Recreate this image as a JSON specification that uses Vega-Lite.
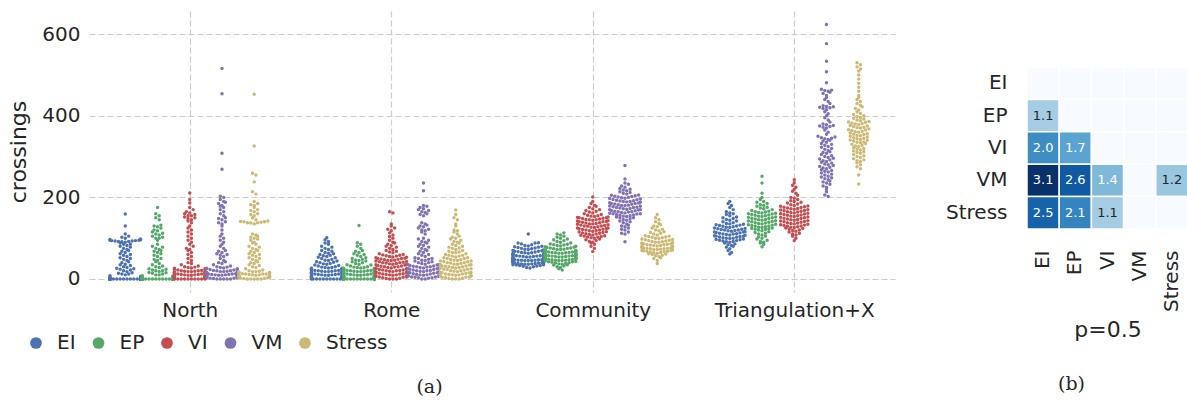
{
"$schema": "https://vega.github.io/schema/vega-lite/v6.json",
"padding": {"left": 7, "top": 11, "right": 0, "bottom": 0},
"spacing": 50,
"config": {
  "font": "DejaVu Sans",
  "view": {"stroke": null},
  "axis": {"labelColor": "#262626", "titleColor": "#262626", "labelFontSize": 20, "titleFontSize": 22, "titleFontWeight": "normal", "domain": false, "ticks": false, "gridColor": "#cccccc", "gridDash": [6, 3], "gridWidth": 1.2}
},
"hconcat": [
{
  "width": 806,
  "height": 281,
  "data": {"format": {"type": "csv", "parse": {"c": "number"}}, "values": "g,m,c\nN,EI,0\nN,EI,0\nN,EI,0\nN,EI,0\nN,EI,0\nN,EI,0\nN,EI,0\nN,EI,0\nN,EI,0\nN,EI,0\nN,EI,0\nN,EI,0\nN,EI,0\nN,EI,0\nN,EI,0\nN,EI,0\nN,EI,0\nN,EI,0\nN,EI,0\nN,EI,0\nN,EI,0\nN,EI,0\nN,EI,0\nN,EI,0\nN,EI,0\nN,EI,0\nN,EI,0\nN,EI,0\nN,EI,0\nN,EI,0\nN,EI,0\nN,EI,0\nN,EI,0\nN,EI,0\nN,EI,0\nN,EI,0\nN,EI,0\nN,EI,0\nN,EI,2\nN,EI,3\nN,EI,4\nN,EI,5\nN,EI,6\nN,EI,8\nN,EI,10\nN,EI,12\nN,EI,12\nN,EI,14\nN,EI,15\nN,EI,18\nN,EI,20\nN,EI,22\nN,EI,24\nN,EI,25\nN,EI,26\nN,EI,28\nN,EI,30\nN,EI,33\nN,EI,35\nN,EI,36\nN,EI,40\nN,EI,42\nN,EI,45\nN,EI,48\nN,EI,50\nN,EI,52\nN,EI,55\nN,EI,58\nN,EI,60\nN,EI,62\nN,EI,65\nN,EI,68\nN,EI,70\nN,EI,72\nN,EI,75\nN,EI,78\nN,EI,80\nN,EI,82\nN,EI,85\nN,EI,85\nN,EI,88\nN,EI,90\nN,EI,91\nN,EI,92\nN,EI,92\nN,EI,93\nN,EI,93\nN,EI,94\nN,EI,94\nN,EI,95\nN,EI,95\nN,EI,96\nN,EI,97\nN,EI,98\nN,EI,100\nN,EI,102\nN,EI,105\nN,EI,110\nN,EI,130\nN,EI,159\nN,EP,0\nN,EP,0\nN,EP,0\nN,EP,0\nN,EP,0\nN,EP,0\nN,EP,0\nN,EP,0\nN,EP,0\nN,EP,0\nN,EP,0\nN,EP,0\nN,EP,0\nN,EP,0\nN,EP,0\nN,EP,0\nN,EP,0\nN,EP,0\nN,EP,0\nN,EP,0\nN,EP,0\nN,EP,0\nN,EP,0\nN,EP,0\nN,EP,0\nN,EP,0\nN,EP,0\nN,EP,0\nN,EP,0\nN,EP,0\nN,EP,0\nN,EP,0\nN,EP,0\nN,EP,0\nN,EP,0\nN,EP,0\nN,EP,0\nN,EP,0\nN,EP,0\nN,EP,0\nN,EP,1\nN,EP,2\nN,EP,3\nN,EP,4\nN,EP,5\nN,EP,6\nN,EP,7\nN,EP,8\nN,EP,10\nN,EP,10\nN,EP,12\nN,EP,14\nN,EP,15\nN,EP,16\nN,EP,18\nN,EP,20\nN,EP,20\nN,EP,22\nN,EP,24\nN,EP,25\nN,EP,28\nN,EP,30\nN,EP,32\nN,EP,35\nN,EP,38\nN,EP,42\nN,EP,45\nN,EP,48\nN,EP,50\nN,EP,55\nN,EP,58\nN,EP,62\nN,EP,65\nN,EP,68\nN,EP,70\nN,EP,72\nN,EP,75\nN,EP,78\nN,EP,80\nN,EP,85\nN,EP,95\nN,EP,100\nN,EP,100\nN,EP,102\nN,EP,105\nN,EP,108\nN,EP,110\nN,EP,112\nN,EP,115\nN,EP,118\nN,EP,120\nN,EP,125\nN,EP,128\nN,EP,130\nN,EP,132\nN,EP,145\nN,EP,150\nN,EP,155\nN,EP,160\nN,EP,175\nN,VI,0\nN,VI,0\nN,VI,0\nN,VI,0\nN,VI,0\nN,VI,0\nN,VI,0\nN,VI,0\nN,VI,0\nN,VI,0\nN,VI,1\nN,VI,1\nN,VI,2\nN,VI,2\nN,VI,3\nN,VI,3\nN,VI,4\nN,VI,4\nN,VI,5\nN,VI,5\nN,VI,6\nN,VI,6\nN,VI,7\nN,VI,7\nN,VI,8\nN,VI,8\nN,VI,9\nN,VI,9\nN,VI,10\nN,VI,10\nN,VI,11\nN,VI,11\nN,VI,12\nN,VI,12\nN,VI,13\nN,VI,13\nN,VI,14\nN,VI,14\nN,VI,15\nN,VI,15\nN,VI,16\nN,VI,16\nN,VI,17\nN,VI,17\nN,VI,18\nN,VI,18\nN,VI,19\nN,VI,19\nN,VI,20\nN,VI,20\nN,VI,21\nN,VI,22\nN,VI,23\nN,VI,24\nN,VI,25\nN,VI,27\nN,VI,29\nN,VI,26\nN,VI,28\nN,VI,30\nN,VI,32\nN,VI,35\nN,VI,38\nN,VI,40\nN,VI,45\nN,VI,50\nN,VI,55\nN,VI,60\nN,VI,65\nN,VI,70\nN,VI,72\nN,VI,75\nN,VI,80\nN,VI,85\nN,VI,90\nN,VI,95\nN,VI,100\nN,VI,105\nN,VI,110\nN,VI,115\nN,VI,120\nN,VI,125\nN,VI,130\nN,VI,138\nN,VI,142\nN,VI,145\nN,VI,148\nN,VI,150\nN,VI,152\nN,VI,155\nN,VI,155\nN,VI,158\nN,VI,160\nN,VI,162\nN,VI,165\nN,VI,170\nN,VI,175\nN,VI,186\nN,VI,195\nN,VI,211\nN,VM,0\nN,VM,0\nN,VM,0\nN,VM,0\nN,VM,0\nN,VM,1\nN,VM,2\nN,VM,3\nN,VM,4\nN,VM,5\nN,VM,6\nN,VM,7\nN,VM,8\nN,VM,9\nN,VM,10\nN,VM,11\nN,VM,12\nN,VM,13\nN,VM,14\nN,VM,15\nN,VM,16\nN,VM,17\nN,VM,18\nN,VM,19\nN,VM,20\nN,VM,21\nN,VM,22\nN,VM,23\nN,VM,24\nN,VM,25\nN,VM,26\nN,VM,27\nN,VM,28\nN,VM,29\nN,VM,30\nN,VM,2\nN,VM,4\nN,VM,6\nN,VM,8\nN,VM,10\nN,VM,12\nN,VM,14\nN,VM,16\nN,VM,18\nN,VM,20\nN,VM,3\nN,VM,5\nN,VM,7\nN,VM,9\nN,VM,11\nN,VM,13\nN,VM,15\nN,VM,25\nN,VM,32\nN,VM,38\nN,VM,42\nN,VM,35\nN,VM,40\nN,VM,45\nN,VM,50\nN,VM,55\nN,VM,58\nN,VM,60\nN,VM,62\nN,VM,65\nN,VM,68\nN,VM,70\nN,VM,75\nN,VM,80\nN,VM,85\nN,VM,90\nN,VM,95\nN,VM,100\nN,VM,105\nN,VM,110\nN,VM,120\nN,VM,130\nN,VM,135\nN,VM,138\nN,VM,140\nN,VM,145\nN,VM,148\nN,VM,150\nN,VM,155\nN,VM,160\nN,VM,165\nN,VM,170\nN,VM,175\nN,VM,178\nN,VM,180\nN,VM,185\nN,VM,188\nN,VM,190\nN,VM,195\nN,VM,200\nN,VM,203\nN,VM,269\nN,VM,308\nN,VM,454\nN,VM,516\nN,Stress,0\nN,Stress,0\nN,Stress,0\nN,Stress,0\nN,Stress,0\nN,Stress,1\nN,Stress,2\nN,Stress,3\nN,Stress,4\nN,Stress,5\nN,Stress,6\nN,Stress,7\nN,Stress,8\nN,Stress,9\nN,Stress,10\nN,Stress,11\nN,Stress,12\nN,Stress,13\nN,Stress,14\nN,Stress,15\nN,Stress,16\nN,Stress,17\nN,Stress,18\nN,Stress,19\nN,Stress,20\nN,Stress,2\nN,Stress,4\nN,Stress,5\nN,Stress,6\nN,Stress,8\nN,Stress,8\nN,Stress,10\nN,Stress,12\nN,Stress,12\nN,Stress,14\nN,Stress,16\nN,Stress,18\nN,Stress,22\nN,Stress,25\nN,Stress,28\nN,Stress,30\nN,Stress,33\nN,Stress,35\nN,Stress,38\nN,Stress,40\nN,Stress,42\nN,Stress,45\nN,Stress,48\nN,Stress,50\nN,Stress,52\nN,Stress,55\nN,Stress,58\nN,Stress,60\nN,Stress,62\nN,Stress,65\nN,Stress,68\nN,Stress,70\nN,Stress,72\nN,Stress,75\nN,Stress,78\nN,Stress,80\nN,Stress,85\nN,Stress,88\nN,Stress,90\nN,Stress,95\nN,Stress,98\nN,Stress,100\nN,Stress,102\nN,Stress,105\nN,Stress,108\nN,Stress,110\nN,Stress,135\nN,Stress,137\nN,Stress,138\nN,Stress,138\nN,Stress,139\nN,Stress,140\nN,Stress,140\nN,Stress,141\nN,Stress,142\nN,Stress,145\nN,Stress,150\nN,Stress,155\nN,Stress,158\nN,Stress,160\nN,Stress,165\nN,Stress,168\nN,Stress,170\nN,Stress,175\nN,Stress,180\nN,Stress,182\nN,Stress,185\nN,Stress,190\nN,Stress,208\nN,Stress,214\nN,Stress,238\nN,Stress,255\nN,Stress,259\nN,Stress,326\nN,Stress,453\nR,EI,0\nR,EI,0\nR,EI,0\nR,EI,0\nR,EI,0\nR,EI,0\nR,EI,0\nR,EI,0\nR,EI,0\nR,EI,0\nR,EI,1\nR,EI,2\nR,EI,3\nR,EI,4\nR,EI,5\nR,EI,6\nR,EI,7\nR,EI,8\nR,EI,9\nR,EI,10\nR,EI,11\nR,EI,12\nR,EI,13\nR,EI,14\nR,EI,15\nR,EI,16\nR,EI,17\nR,EI,18\nR,EI,19\nR,EI,20\nR,EI,21\nR,EI,22\nR,EI,23\nR,EI,24\nR,EI,25\nR,EI,26\nR,EI,27\nR,EI,28\nR,EI,29\nR,EI,30\nR,EI,3\nR,EI,5\nR,EI,7\nR,EI,9\nR,EI,11\nR,EI,13\nR,EI,15\nR,EI,17\nR,EI,19\nR,EI,21\nR,EI,23\nR,EI,25\nR,EI,2\nR,EI,4\nR,EI,6\nR,EI,8\nR,EI,10\nR,EI,12\nR,EI,14\nR,EI,16\nR,EI,18\nR,EI,20\nR,EI,22\nR,EI,24\nR,EI,26\nR,EI,28\nR,EI,32\nR,EI,33\nR,EI,34\nR,EI,36\nR,EI,37\nR,EI,38\nR,EI,40\nR,EI,41\nR,EI,42\nR,EI,44\nR,EI,45\nR,EI,46\nR,EI,48\nR,EI,50\nR,EI,52\nR,EI,53\nR,EI,55\nR,EI,57\nR,EI,58\nR,EI,60\nR,EI,62\nR,EI,63\nR,EI,65\nR,EI,68\nR,EI,70\nR,EI,72\nR,EI,75\nR,EI,78\nR,EI,80\nR,EI,85\nR,EI,88\nR,EI,92\nR,EI,96\nR,EI,101\nR,EP,0\nR,EP,0\nR,EP,0\nR,EP,0\nR,EP,0\nR,EP,0\nR,EP,0\nR,EP,0\nR,EP,0\nR,EP,0\nR,EP,0\nR,EP,0\nR,EP,0\nR,EP,0\nR,EP,0\nR,EP,0\nR,EP,0\nR,EP,0\nR,EP,0\nR,EP,0\nR,EP,1\nR,EP,2\nR,EP,3\nR,EP,4\nR,EP,5\nR,EP,6\nR,EP,7\nR,EP,8\nR,EP,9\nR,EP,10\nR,EP,11\nR,EP,12\nR,EP,13\nR,EP,14\nR,EP,15\nR,EP,16\nR,EP,17\nR,EP,18\nR,EP,19\nR,EP,20\nR,EP,21\nR,EP,22\nR,EP,23\nR,EP,24\nR,EP,25\nR,EP,26\nR,EP,27\nR,EP,28\nR,EP,29\nR,EP,30\nR,EP,5\nR,EP,8\nR,EP,10\nR,EP,12\nR,EP,15\nR,EP,18\nR,EP,20\nR,EP,22\nR,EP,25\nR,EP,28\nR,EP,3\nR,EP,4\nR,EP,6\nR,EP,7\nR,EP,9\nR,EP,11\nR,EP,13\nR,EP,14\nR,EP,16\nR,EP,17\nR,EP,19\nR,EP,21\nR,EP,23\nR,EP,24\nR,EP,26\nR,EP,32\nR,EP,34\nR,EP,35\nR,EP,36\nR,EP,38\nR,EP,40\nR,EP,42\nR,EP,44\nR,EP,45\nR,EP,46\nR,EP,48\nR,EP,50\nR,EP,52\nR,EP,55\nR,EP,58\nR,EP,60\nR,EP,62\nR,EP,65\nR,EP,68\nR,EP,70\nR,EP,75\nR,EP,80\nR,EP,85\nR,EP,89\nR,EP,131\nR,VI,0\nR,VI,0\nR,VI,0\nR,VI,1\nR,VI,2\nR,VI,3\nR,VI,4\nR,VI,5\nR,VI,6\nR,VI,7\nR,VI,8\nR,VI,9\nR,VI,10\nR,VI,11\nR,VI,12\nR,VI,13\nR,VI,14\nR,VI,15\nR,VI,16\nR,VI,17\nR,VI,18\nR,VI,19\nR,VI,20\nR,VI,21\nR,VI,22\nR,VI,23\nR,VI,24\nR,VI,25\nR,VI,26\nR,VI,27\nR,VI,28\nR,VI,29\nR,VI,30\nR,VI,31\nR,VI,32\nR,VI,33\nR,VI,34\nR,VI,35\nR,VI,36\nR,VI,37\nR,VI,38\nR,VI,39\nR,VI,40\nR,VI,41\nR,VI,42\nR,VI,43\nR,VI,44\nR,VI,45\nR,VI,46\nR,VI,47\nR,VI,48\nR,VI,49\nR,VI,50\nR,VI,51\nR,VI,52\nR,VI,53\nR,VI,54\nR,VI,55\nR,VI,56\nR,VI,57\nR,VI,58\nR,VI,59\nR,VI,60\nR,VI,5\nR,VI,10\nR,VI,15\nR,VI,20\nR,VI,25\nR,VI,30\nR,VI,35\nR,VI,40\nR,VI,45\nR,VI,50\nR,VI,12\nR,VI,22\nR,VI,62\nR,VI,64\nR,VI,66\nR,VI,68\nR,VI,70\nR,VI,72\nR,VI,75\nR,VI,78\nR,VI,80\nR,VI,82\nR,VI,85\nR,VI,88\nR,VI,90\nR,VI,95\nR,VI,100\nR,VI,104\nR,VI,108\nR,VI,113\nR,VI,118\nR,VI,122\nR,VI,125\nR,VI,130\nR,VI,135\nR,VI,162\nR,VI,165\nR,VM,0\nR,VM,0\nR,VM,2\nR,VM,3\nR,VM,4\nR,VM,5\nR,VM,6\nR,VM,7\nR,VM,8\nR,VM,9\nR,VM,10\nR,VM,11\nR,VM,12\nR,VM,13\nR,VM,14\nR,VM,15\nR,VM,16\nR,VM,17\nR,VM,18\nR,VM,19\nR,VM,20\nR,VM,21\nR,VM,22\nR,VM,23\nR,VM,24\nR,VM,25\nR,VM,26\nR,VM,27\nR,VM,28\nR,VM,29\nR,VM,30\nR,VM,31\nR,VM,32\nR,VM,33\nR,VM,34\nR,VM,35\nR,VM,36\nR,VM,38\nR,VM,40\nR,VM,42\nR,VM,44\nR,VM,46\nR,VM,48\nR,VM,50\nR,VM,52\nR,VM,55\nR,VM,5\nR,VM,10\nR,VM,15\nR,VM,20\nR,VM,25\nR,VM,30\nR,VM,35\nR,VM,40\nR,VM,45\nR,VM,50\nR,VM,3\nR,VM,7\nR,VM,58\nR,VM,60\nR,VM,62\nR,VM,65\nR,VM,68\nR,VM,70\nR,VM,72\nR,VM,75\nR,VM,78\nR,VM,80\nR,VM,82\nR,VM,85\nR,VM,88\nR,VM,90\nR,VM,92\nR,VM,95\nR,VM,98\nR,VM,100\nR,VM,110\nR,VM,115\nR,VM,118\nR,VM,120\nR,VM,122\nR,VM,125\nR,VM,128\nR,VM,130\nR,VM,132\nR,VM,135\nR,VM,138\nR,VM,155\nR,VM,158\nR,VM,160\nR,VM,163\nR,VM,165\nR,VM,168\nR,VM,170\nR,VM,172\nR,VM,175\nR,VM,178\nR,VM,180\nR,VM,216\nR,VM,235\nR,Stress,0\nR,Stress,0\nR,Stress,0\nR,Stress,1\nR,Stress,2\nR,Stress,4\nR,Stress,6\nR,Stress,8\nR,Stress,9\nR,Stress,10\nR,Stress,12\nR,Stress,14\nR,Stress,16\nR,Stress,18\nR,Stress,20\nR,Stress,22\nR,Stress,24\nR,Stress,26\nR,Stress,28\nR,Stress,30\nR,Stress,32\nR,Stress,34\nR,Stress,36\nR,Stress,38\nR,Stress,40\nR,Stress,42\nR,Stress,44\nR,Stress,46\nR,Stress,48\nR,Stress,50\nR,Stress,52\nR,Stress,54\nR,Stress,56\nR,Stress,58\nR,Stress,60\nR,Stress,5\nR,Stress,10\nR,Stress,15\nR,Stress,20\nR,Stress,25\nR,Stress,30\nR,Stress,35\nR,Stress,40\nR,Stress,45\nR,Stress,50\nR,Stress,3\nR,Stress,7\nR,Stress,11\nR,Stress,15\nR,Stress,19\nR,Stress,23\nR,Stress,27\nR,Stress,31\nR,Stress,35\nR,Stress,39\nR,Stress,43\nR,Stress,47\nR,Stress,4\nR,Stress,8\nR,Stress,12\nR,Stress,16\nR,Stress,24\nR,Stress,28\nR,Stress,32\nR,Stress,36\nR,Stress,44\nR,Stress,52\nR,Stress,56\nR,Stress,58\nR,Stress,64\nR,Stress,66\nR,Stress,62\nR,Stress,65\nR,Stress,68\nR,Stress,70\nR,Stress,72\nR,Stress,75\nR,Stress,76\nR,Stress,78\nR,Stress,80\nR,Stress,82\nR,Stress,85\nR,Stress,88\nR,Stress,90\nR,Stress,92\nR,Stress,95\nR,Stress,98\nR,Stress,100\nR,Stress,102\nR,Stress,105\nR,Stress,110\nR,Stress,115\nR,Stress,118\nR,Stress,120\nR,Stress,130\nR,Stress,135\nR,Stress,145\nR,Stress,150\nR,Stress,158\nR,Stress,169\nC,EI,27\nC,EI,28\nC,EI,30\nC,EI,31\nC,EI,32\nC,EI,33\nC,EI,33\nC,EI,34\nC,EI,35\nC,EI,35\nC,EI,36\nC,EI,36\nC,EI,37\nC,EI,37\nC,EI,38\nC,EI,38\nC,EI,39\nC,EI,39\nC,EI,40\nC,EI,40\nC,EI,40\nC,EI,41\nC,EI,41\nC,EI,42\nC,EI,42\nC,EI,42\nC,EI,43\nC,EI,43\nC,EI,44\nC,EI,44\nC,EI,44\nC,EI,45\nC,EI,45\nC,EI,45\nC,EI,46\nC,EI,46\nC,EI,46\nC,EI,47\nC,EI,47\nC,EI,47\nC,EI,48\nC,EI,48\nC,EI,48\nC,EI,49\nC,EI,49\nC,EI,50\nC,EI,50\nC,EI,50\nC,EI,51\nC,EI,51\nC,EI,52\nC,EI,52\nC,EI,53\nC,EI,53\nC,EI,54\nC,EI,54\nC,EI,55\nC,EI,55\nC,EI,56\nC,EI,56\nC,EI,57\nC,EI,57\nC,EI,58\nC,EI,58\nC,EI,59\nC,EI,60\nC,EI,60\nC,EI,61\nC,EI,62\nC,EI,62\nC,EI,63\nC,EI,64\nC,EI,64\nC,EI,65\nC,EI,66\nC,EI,67\nC,EI,68\nC,EI,68\nC,EI,69\nC,EI,70\nC,EI,71\nC,EI,72\nC,EI,73\nC,EI,74\nC,EI,75\nC,EI,76\nC,EI,77\nC,EI,78\nC,EI,79\nC,EI,80\nC,EI,81\nC,EI,82\nC,EI,84\nC,EI,86\nC,EI,88\nC,EI,88\nC,EI,89\nC,EI,110\nC,EP,22\nC,EP,25\nC,EP,28\nC,EP,30\nC,EP,32\nC,EP,34\nC,EP,35\nC,EP,36\nC,EP,37\nC,EP,38\nC,EP,39\nC,EP,40\nC,EP,41\nC,EP,42\nC,EP,42\nC,EP,43\nC,EP,44\nC,EP,45\nC,EP,45\nC,EP,46\nC,EP,46\nC,EP,47\nC,EP,47\nC,EP,48\nC,EP,48\nC,EP,49\nC,EP,49\nC,EP,50\nC,EP,50\nC,EP,51\nC,EP,51\nC,EP,52\nC,EP,52\nC,EP,53\nC,EP,53\nC,EP,54\nC,EP,54\nC,EP,55\nC,EP,55\nC,EP,56\nC,EP,56\nC,EP,57\nC,EP,57\nC,EP,58\nC,EP,58\nC,EP,59\nC,EP,59\nC,EP,60\nC,EP,60\nC,EP,61\nC,EP,61\nC,EP,62\nC,EP,62\nC,EP,63\nC,EP,63\nC,EP,64\nC,EP,64\nC,EP,65\nC,EP,65\nC,EP,66\nC,EP,66\nC,EP,67\nC,EP,67\nC,EP,68\nC,EP,68\nC,EP,69\nC,EP,70\nC,EP,70\nC,EP,71\nC,EP,72\nC,EP,72\nC,EP,73\nC,EP,74\nC,EP,75\nC,EP,76\nC,EP,76\nC,EP,77\nC,EP,78\nC,EP,79\nC,EP,80\nC,EP,81\nC,EP,82\nC,EP,83\nC,EP,84\nC,EP,85\nC,EP,86\nC,EP,88\nC,EP,90\nC,EP,92\nC,EP,94\nC,EP,96\nC,EP,98\nC,EP,100\nC,EP,102\nC,EP,105\nC,EP,108\nC,EP,110\nC,EP,113\nC,VI,67\nC,VI,75\nC,VI,80\nC,VI,85\nC,VI,88\nC,VI,90\nC,VI,92\nC,VI,94\nC,VI,96\nC,VI,98\nC,VI,100\nC,VI,101\nC,VI,102\nC,VI,103\nC,VI,104\nC,VI,105\nC,VI,106\nC,VI,107\nC,VI,108\nC,VI,109\nC,VI,110\nC,VI,111\nC,VI,112\nC,VI,113\nC,VI,114\nC,VI,115\nC,VI,116\nC,VI,117\nC,VI,118\nC,VI,119\nC,VI,120\nC,VI,120\nC,VI,121\nC,VI,122\nC,VI,123\nC,VI,124\nC,VI,125\nC,VI,125\nC,VI,126\nC,VI,127\nC,VI,128\nC,VI,129\nC,VI,130\nC,VI,130\nC,VI,131\nC,VI,132\nC,VI,133\nC,VI,134\nC,VI,135\nC,VI,135\nC,VI,136\nC,VI,137\nC,VI,138\nC,VI,139\nC,VI,140\nC,VI,140\nC,VI,141\nC,VI,142\nC,VI,143\nC,VI,144\nC,VI,145\nC,VI,145\nC,VI,146\nC,VI,147\nC,VI,148\nC,VI,149\nC,VI,150\nC,VI,150\nC,VI,151\nC,VI,152\nC,VI,153\nC,VI,154\nC,VI,155\nC,VI,156\nC,VI,158\nC,VI,160\nC,VI,162\nC,VI,164\nC,VI,166\nC,VI,168\nC,VI,170\nC,VI,172\nC,VI,175\nC,VI,178\nC,VI,180\nC,VI,185\nC,VI,190\nC,VI,201\nC,VM,91\nC,VM,110\nC,VM,112\nC,VM,115\nC,VM,120\nC,VM,122\nC,VM,125\nC,VM,128\nC,VM,130\nC,VM,132\nC,VM,135\nC,VM,138\nC,VM,140\nC,VM,142\nC,VM,144\nC,VM,146\nC,VM,148\nC,VM,150\nC,VM,150\nC,VM,152\nC,VM,153\nC,VM,154\nC,VM,155\nC,VM,156\nC,VM,157\nC,VM,158\nC,VM,159\nC,VM,160\nC,VM,160\nC,VM,161\nC,VM,162\nC,VM,163\nC,VM,164\nC,VM,165\nC,VM,165\nC,VM,166\nC,VM,167\nC,VM,168\nC,VM,169\nC,VM,170\nC,VM,170\nC,VM,171\nC,VM,172\nC,VM,173\nC,VM,174\nC,VM,175\nC,VM,175\nC,VM,176\nC,VM,177\nC,VM,178\nC,VM,179\nC,VM,180\nC,VM,180\nC,VM,181\nC,VM,182\nC,VM,183\nC,VM,184\nC,VM,185\nC,VM,185\nC,VM,186\nC,VM,187\nC,VM,188\nC,VM,189\nC,VM,190\nC,VM,190\nC,VM,191\nC,VM,192\nC,VM,193\nC,VM,194\nC,VM,195\nC,VM,196\nC,VM,197\nC,VM,198\nC,VM,199\nC,VM,200\nC,VM,201\nC,VM,202\nC,VM,203\nC,VM,204\nC,VM,205\nC,VM,206\nC,VM,208\nC,VM,210\nC,VM,212\nC,VM,214\nC,VM,216\nC,VM,218\nC,VM,220\nC,VM,222\nC,VM,225\nC,VM,228\nC,VM,232\nC,VM,235\nC,VM,245\nC,VM,278\nC,Stress,38\nC,Stress,45\nC,Stress,50\nC,Stress,52\nC,Stress,55\nC,Stress,57\nC,Stress,58\nC,Stress,60\nC,Stress,61\nC,Stress,62\nC,Stress,63\nC,Stress,64\nC,Stress,65\nC,Stress,66\nC,Stress,67\nC,Stress,68\nC,Stress,68\nC,Stress,69\nC,Stress,70\nC,Stress,70\nC,Stress,71\nC,Stress,72\nC,Stress,72\nC,Stress,73\nC,Stress,74\nC,Stress,74\nC,Stress,75\nC,Stress,75\nC,Stress,76\nC,Stress,76\nC,Stress,77\nC,Stress,78\nC,Stress,78\nC,Stress,79\nC,Stress,80\nC,Stress,80\nC,Stress,81\nC,Stress,82\nC,Stress,82\nC,Stress,83\nC,Stress,84\nC,Stress,84\nC,Stress,85\nC,Stress,86\nC,Stress,86\nC,Stress,87\nC,Stress,88\nC,Stress,88\nC,Stress,89\nC,Stress,90\nC,Stress,90\nC,Stress,91\nC,Stress,92\nC,Stress,93\nC,Stress,94\nC,Stress,95\nC,Stress,96\nC,Stress,97\nC,Stress,98\nC,Stress,99\nC,Stress,100\nC,Stress,101\nC,Stress,102\nC,Stress,103\nC,Stress,104\nC,Stress,105\nC,Stress,106\nC,Stress,108\nC,Stress,110\nC,Stress,112\nC,Stress,114\nC,Stress,116\nC,Stress,118\nC,Stress,120\nC,Stress,122\nC,Stress,125\nC,Stress,128\nC,Stress,130\nC,Stress,133\nC,Stress,136\nC,Stress,140\nC,Stress,145\nC,Stress,150\nC,Stress,158\nT,EI,61\nT,EI,65\nT,EI,70\nT,EI,74\nT,EI,78\nT,EI,80\nT,EI,82\nT,EI,84\nT,EI,86\nT,EI,88\nT,EI,90\nT,EI,91\nT,EI,92\nT,EI,93\nT,EI,94\nT,EI,95\nT,EI,96\nT,EI,97\nT,EI,98\nT,EI,99\nT,EI,100\nT,EI,100\nT,EI,101\nT,EI,102\nT,EI,103\nT,EI,104\nT,EI,105\nT,EI,105\nT,EI,106\nT,EI,107\nT,EI,108\nT,EI,109\nT,EI,110\nT,EI,110\nT,EI,111\nT,EI,112\nT,EI,113\nT,EI,114\nT,EI,115\nT,EI,115\nT,EI,116\nT,EI,117\nT,EI,118\nT,EI,119\nT,EI,120\nT,EI,120\nT,EI,121\nT,EI,122\nT,EI,123\nT,EI,124\nT,EI,125\nT,EI,126\nT,EI,127\nT,EI,128\nT,EI,129\nT,EI,130\nT,EI,131\nT,EI,132\nT,EI,133\nT,EI,134\nT,EI,135\nT,EI,136\nT,EI,138\nT,EI,140\nT,EI,142\nT,EI,144\nT,EI,146\nT,EI,148\nT,EI,150\nT,EI,152\nT,EI,155\nT,EI,158\nT,EI,160\nT,EI,162\nT,EI,165\nT,EI,170\nT,EI,175\nT,EI,180\nT,EI,185\nT,EI,190\nT,EP,79\nT,EP,85\nT,EP,88\nT,EP,90\nT,EP,92\nT,EP,95\nT,EP,98\nT,EP,100\nT,EP,103\nT,EP,105\nT,EP,108\nT,EP,110\nT,EP,112\nT,EP,114\nT,EP,116\nT,EP,118\nT,EP,120\nT,EP,121\nT,EP,122\nT,EP,123\nT,EP,124\nT,EP,125\nT,EP,126\nT,EP,127\nT,EP,128\nT,EP,129\nT,EP,130\nT,EP,131\nT,EP,132\nT,EP,133\nT,EP,134\nT,EP,135\nT,EP,136\nT,EP,137\nT,EP,138\nT,EP,139\nT,EP,140\nT,EP,141\nT,EP,142\nT,EP,143\nT,EP,144\nT,EP,145\nT,EP,146\nT,EP,147\nT,EP,148\nT,EP,149\nT,EP,150\nT,EP,151\nT,EP,152\nT,EP,153\nT,EP,154\nT,EP,155\nT,EP,156\nT,EP,157\nT,EP,158\nT,EP,159\nT,EP,160\nT,EP,161\nT,EP,162\nT,EP,163\nT,EP,164\nT,EP,165\nT,EP,166\nT,EP,168\nT,EP,170\nT,EP,172\nT,EP,174\nT,EP,176\nT,EP,178\nT,EP,180\nT,EP,182\nT,EP,185\nT,EP,188\nT,EP,190\nT,EP,195\nT,EP,200\nT,EP,210\nT,EP,235\nT,EP,252\nT,VI,94\nT,VI,100\nT,VI,105\nT,VI,108\nT,VI,110\nT,VI,112\nT,VI,115\nT,VI,117\nT,VI,119\nT,VI,120\nT,VI,122\nT,VI,124\nT,VI,125\nT,VI,126\nT,VI,127\nT,VI,128\nT,VI,129\nT,VI,130\nT,VI,131\nT,VI,132\nT,VI,133\nT,VI,134\nT,VI,135\nT,VI,136\nT,VI,137\nT,VI,138\nT,VI,139\nT,VI,140\nT,VI,141\nT,VI,142\nT,VI,143\nT,VI,144\nT,VI,145\nT,VI,146\nT,VI,147\nT,VI,148\nT,VI,149\nT,VI,150\nT,VI,151\nT,VI,152\nT,VI,153\nT,VI,154\nT,VI,155\nT,VI,156\nT,VI,157\nT,VI,158\nT,VI,159\nT,VI,160\nT,VI,161\nT,VI,162\nT,VI,163\nT,VI,164\nT,VI,165\nT,VI,166\nT,VI,167\nT,VI,168\nT,VI,169\nT,VI,170\nT,VI,171\nT,VI,172\nT,VI,173\nT,VI,174\nT,VI,175\nT,VI,176\nT,VI,177\nT,VI,178\nT,VI,179\nT,VI,180\nT,VI,182\nT,VI,184\nT,VI,186\nT,VI,188\nT,VI,190\nT,VI,192\nT,VI,195\nT,VI,198\nT,VI,200\nT,VI,205\nT,VI,210\nT,VI,215\nT,VI,220\nT,VI,225\nT,VI,230\nT,VI,236\nT,VI,243\nT,VM,202\nT,VM,206\nT,VM,214\nT,VM,220\nT,VM,225\nT,VM,228\nT,VM,232\nT,VM,235\nT,VM,238\nT,VM,240\nT,VM,243\nT,VM,246\nT,VM,248\nT,VM,250\nT,VM,252\nT,VM,255\nT,VM,257\nT,VM,260\nT,VM,262\nT,VM,264\nT,VM,266\nT,VM,268\nT,VM,270\nT,VM,272\nT,VM,274\nT,VM,276\nT,VM,278\nT,VM,280\nT,VM,282\nT,VM,284\nT,VM,286\nT,VM,288\nT,VM,290\nT,VM,292\nT,VM,294\nT,VM,296\nT,VM,298\nT,VM,300\nT,VM,302\nT,VM,305\nT,VM,308\nT,VM,310\nT,VM,312\nT,VM,315\nT,VM,318\nT,VM,320\nT,VM,323\nT,VM,325\nT,VM,328\nT,VM,330\nT,VM,332\nT,VM,335\nT,VM,338\nT,VM,340\nT,VM,342\nT,VM,344\nT,VM,345\nT,VM,346\nT,VM,348\nT,VM,350\nT,VM,355\nT,VM,360\nT,VM,365\nT,VM,370\nT,VM,372\nT,VM,374\nT,VM,375\nT,VM,376\nT,VM,378\nT,VM,380\nT,VM,385\nT,VM,390\nT,VM,395\nT,VM,400\nT,VM,405\nT,VM,410\nT,VM,415\nT,VM,418\nT,VM,420\nT,VM,421\nT,VM,422\nT,VM,423\nT,VM,425\nT,VM,430\nT,VM,435\nT,VM,440\nT,VM,445\nT,VM,450\nT,VM,455\nT,VM,458\nT,VM,460\nT,VM,462\nT,VM,463\nT,VM,465\nT,VM,481\nT,VM,508\nT,VM,534\nT,VM,577\nT,VM,624\nT,Stress,233\nT,Stress,255\nT,Stress,270\nT,Stress,275\nT,Stress,280\nT,Stress,285\nT,Stress,288\nT,Stress,290\nT,Stress,292\nT,Stress,295\nT,Stress,298\nT,Stress,300\nT,Stress,302\nT,Stress,305\nT,Stress,308\nT,Stress,310\nT,Stress,312\nT,Stress,314\nT,Stress,316\nT,Stress,318\nT,Stress,320\nT,Stress,322\nT,Stress,324\nT,Stress,326\nT,Stress,328\nT,Stress,330\nT,Stress,332\nT,Stress,334\nT,Stress,335\nT,Stress,336\nT,Stress,338\nT,Stress,340\nT,Stress,341\nT,Stress,342\nT,Stress,344\nT,Stress,345\nT,Stress,346\nT,Stress,348\nT,Stress,350\nT,Stress,351\nT,Stress,352\nT,Stress,354\nT,Stress,355\nT,Stress,356\nT,Stress,358\nT,Stress,360\nT,Stress,361\nT,Stress,362\nT,Stress,364\nT,Stress,365\nT,Stress,366\nT,Stress,368\nT,Stress,370\nT,Stress,371\nT,Stress,372\nT,Stress,374\nT,Stress,375\nT,Stress,376\nT,Stress,378\nT,Stress,380\nT,Stress,381\nT,Stress,382\nT,Stress,384\nT,Stress,385\nT,Stress,386\nT,Stress,388\nT,Stress,390\nT,Stress,392\nT,Stress,394\nT,Stress,396\nT,Stress,398\nT,Stress,400\nT,Stress,403\nT,Stress,406\nT,Stress,410\nT,Stress,414\nT,Stress,418\nT,Stress,422\nT,Stress,426\nT,Stress,430\nT,Stress,435\nT,Stress,440\nT,Stress,445\nT,Stress,450\nT,Stress,460\nT,Stress,470\nT,Stress,480\nT,Stress,490\nT,Stress,500\nT,Stress,510\nT,Stress,515\nT,Stress,520\nT,Stress,525\nT,Stress,530\n"},
  "transform": [
    {"calculate": "indexof(['N','R','C','T'], datum.g)", "as": "gi"},
    {"calculate": "indexof(['EI','EP','VI','VM','Stress'], datum.m)", "as": "mi"},
    {"calculate": "floor(datum.c / 9)", "as": "b"},
    {"joinaggregate": [{"op": "count", "as": "n"}], "groupby": ["g", "m", "b"]},
    {"window": [{"op": "row_number", "as": "rk"}], "sort": [{"field": "c"}], "groupby": ["g", "m", "b"]},
    {"calculate": "(datum.rk % 2 == 1 ? (datum.rk - 1) / 2 : -datum.rk / 2) + (datum.n % 2 == 0 ? 0.5 : 0)", "as": "slot"},
    {"calculate": "datum.gi + (datum.mi - 2) * 0.16 + clamp(datum.slot * 0.0169, -0.076, 0.076)", "as": "xp"}
  ],
  "mark": {"type": "circle", "size": 12, "opacity": 1},
  "encoding": {
    "x": {"field": "xp", "type": "quantitative", "scale": {"domain": [-0.5, 3.5], "nice": false, "zero": false},
      "axis": {"values": [0, 1, 2, 3], "labelExpr": "['North','Rome','Community','Triangulation+X'][datum.value]", "labelPadding": 8, "grid": true, "title": "(a)", "titleFont": "DejaVu Serif", "titleFontSize": 19, "titleX": 340, "titleY": 94, "titleBaseline": "middle", "titleAlign": "center"}},
    "y": {"field": "c", "type": "quantitative", "scale": {"domain": [-32, 657], "nice": false, "zero": false},
      "axis": {"values": [0, 200, 400, 600], "title": "crossings", "labelPadding": 9, "titlePadding": 11, "grid": true}},
    "color": {"field": "m", "type": "nominal",
      "scale": {"domain": ["EI", "EP", "VI", "VM", "Stress"], "range": ["#4C72B0", "#55A868", "#C44E52", "#8172B2", "#CCB974"]},
      "legend": {"orient": "none", "legendX": -63, "legendY": 322, "direction": "horizontal", "title": null, "symbolType": "circle", "symbolSize": 137, "symbolStrokeWidth": 0, "symbolOpacity": 1, "labelFontSize": 20, "labelColor": "#262626", "labelOffset": 11, "columnPadding": 12.5, "padding": 0}}
  }
},
{
  "width": 161,
  "height": 281,
  "data": {"values": [
    {"r": "EI", "k": "EI", "v": 0}, {"r": "EI", "k": "EP", "v": 0}, {"r": "EI", "k": "VI", "v": 0}, {"r": "EI", "k": "VM", "v": 0}, {"r": "EI", "k": "Stress", "v": 0},
    {"r": "EP", "k": "EI", "v": 1.1}, {"r": "EP", "k": "EP", "v": 0}, {"r": "EP", "k": "VI", "v": 0}, {"r": "EP", "k": "VM", "v": 0}, {"r": "EP", "k": "Stress", "v": 0},
    {"r": "VI", "k": "EI", "v": 2.0}, {"r": "VI", "k": "EP", "v": 1.7}, {"r": "VI", "k": "VI", "v": 0}, {"r": "VI", "k": "VM", "v": 0}, {"r": "VI", "k": "Stress", "v": 0},
    {"r": "VM", "k": "EI", "v": 3.1}, {"r": "VM", "k": "EP", "v": 2.6}, {"r": "VM", "k": "VI", "v": 1.4}, {"r": "VM", "k": "VM", "v": 0}, {"r": "VM", "k": "Stress", "v": 1.2},
    {"r": "Stress", "k": "EI", "v": 2.5}, {"r": "Stress", "k": "EP", "v": 2.1}, {"r": "Stress", "k": "VI", "v": 1.1}, {"r": "Stress", "k": "VM", "v": 0}, {"r": "Stress", "k": "Stress", "v": 0}
  ]},
  "title": {"text": "(b)", "orient": "bottom", "font": "DejaVu Serif", "fontSize": 19, "fontWeight": "normal", "color": "#262626", "dx": -36, "dy": 31},
  "encoding": {
    "x": {"field": "k", "type": "nominal", "sort": ["EI", "EP", "VI", "VM", "Stress"], "scale": {"paddingInner": 0, "paddingOuter": 0},
      "axis": {"labelAngle": -90, "labelPadding": 21, "title": "p=0.5", "titlePadding": 8, "offset": -63, "grid": false}},
    "y": {"field": "r", "type": "nominal", "sort": ["EI", "EP", "VI", "VM", "Stress"], "scale": {"paddingInner": 0, "paddingOuter": 0, "range": [56, 218]},
      "axis": {"labelPadding": 20, "title": null, "grid": false}}
  },
  "layer": [
    {"mark": {"type": "rect", "stroke": "white", "strokeWidth": 1.5},
     "encoding": {"color": {"field": "v", "type": "quantitative", "legend": null,
       "scale": {"domain": [0, 0.3875, 0.775, 1.1625, 1.55, 1.9375, 2.325, 2.7125, 3.1], "range": ["#f7fbff", "#deebf7", "#c6dbef", "#9ecae1", "#6baed6", "#4292c6", "#2171b5", "#08519c", "#08306b"], "interpolate": "rgb"}}}},
    {"transform": [{"filter": "datum.v > 0"}],
     "mark": {"type": "text", "fontSize": 13},
     "encoding": {"text": {"field": "v", "type": "quantitative", "format": ".1f"},
       "color": {"condition": {"test": "datum.v > 1.3", "value": "white"}, "value": "#262626"}}}
  ]
}
]
}
